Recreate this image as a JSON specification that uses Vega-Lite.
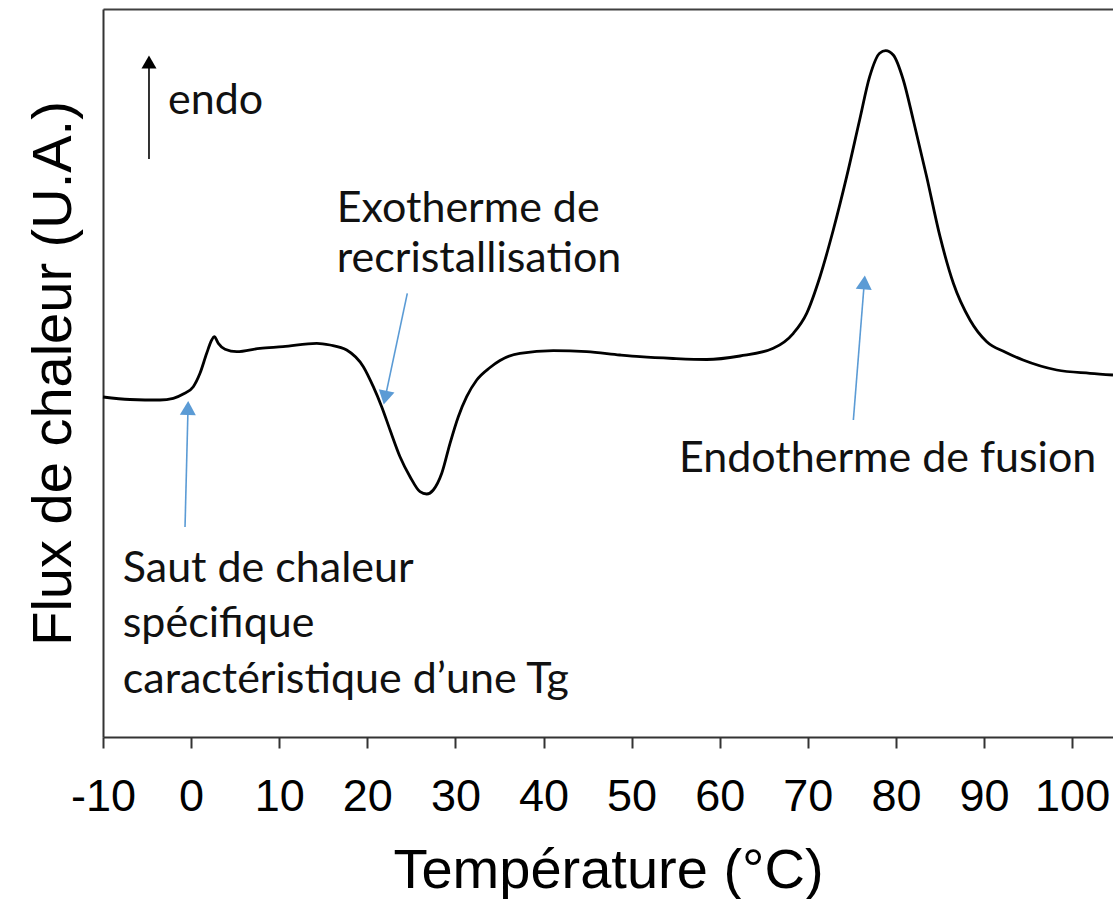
{
  "$schema": "https://vega.github.io/schema/vega-lite/v6.json",
  "width": 1010,
  "height": 728,
  "autosize": {"type": "none"},
  "padding": {"left": 103, "top": 9, "right": 0, "bottom": 162},
  "background": "white",
  "config": {"view": {"stroke": null}},
  "datasets": {
    "curve": [
      {"T": -10.0, "flux": 34.0}, {"T": -6.94, "flux": 33.75}, {"T": -3.53, "flux": 33.7}, {"T": -2.02, "flux": 33.87},
      {"T": -0.89, "flux": 34.3}, {"T": 0.25, "flux": 35.03}, {"T": 1.01, "flux": 36.37}, {"T": 1.77, "flux": 38.37},
      {"T": 2.34, "flux": 39.7}, {"T": 2.63, "flux": 40.03}, {"T": 3.09, "flux": 39.37}, {"T": 3.85, "flux": 38.77},
      {"T": 5.18, "flux": 38.53}, {"T": 7.82, "flux": 38.87}, {"T": 10.43, "flux": 39.03}, {"T": 14.26, "flux": 39.37},
      {"T": 15.77, "flux": 39.2}, {"T": 17.66, "flux": 38.7}, {"T": 19.55, "flux": 37.03}, {"T": 20.68, "flux": 35.03},
      {"T": 21.63, "flux": 33.03}, {"T": 22.58, "flux": 30.7}, {"T": 23.71, "flux": 28.03}, {"T": 24.85, "flux": 26.03},
      {"T": 25.98, "flux": 24.53}, {"T": 26.74, "flux": 24.3}, {"T": 27.49, "flux": 24.7}, {"T": 28.45, "flux": 26.37},
      {"T": 29.39, "flux": 29.37}, {"T": 30.33, "flux": 32.03}, {"T": 31.28, "flux": 34.03}, {"T": 32.42, "flux": 35.7},
      {"T": 33.93, "flux": 36.95}, {"T": 35.06, "flux": 37.65}, {"T": 37.33, "flux": 38.37}, {"T": 41.11, "flux": 38.63},
      {"T": 44.9, "flux": 38.53}, {"T": 48.68, "flux": 38.2}, {"T": 50.95, "flux": 38.03}, {"T": 54.7, "flux": 37.85},
      {"T": 58.52, "flux": 37.75}, {"T": 62.3, "flux": 38.1}, {"T": 66.08, "flux": 38.87}, {"T": 68.36, "flux": 40.37},
      {"T": 69.87, "flux": 42.37}, {"T": 71.38, "flux": 46.03}, {"T": 72.89, "flux": 50.7}, {"T": 74.41, "flux": 56.03},
      {"T": 75.88, "flux": 61.7}, {"T": 77.02, "flux": 66.03}, {"T": 78.15, "flux": 68.37}, {"T": 78.84, "flux": 68.63},
      {"T": 79.7, "flux": 68.2}, {"T": 80.84, "flux": 65.7}, {"T": 81.97, "flux": 61.7}, {"T": 83.49, "flux": 56.03},
      {"T": 85.01, "flux": 50.03}, {"T": 86.52, "flux": 45.37}, {"T": 88.41, "flux": 41.7}, {"T": 90.31, "flux": 39.53},
      {"T": 92.38, "flux": 38.5}, {"T": 94.43, "flux": 37.7}, {"T": 98.25, "flux": 36.7}, {"T": 102.03, "flux": 36.37},
      {"T": 104.64, "flux": 36.2}
    ],
    "arrows": [
      {"name": "endo", "kind": "endo", "T": -4.78, "flux": 57.8, "T2": -4.78, "flux2": 67.5},
      {"name": "tg", "kind": "note", "T": -0.69, "flux": 21.0, "T2": -0.35, "flux2": 32.9},
      {"name": "exo", "kind": "note", "T": 24.54, "flux": 44.37, "T2": 22.03, "flux2": 33.93},
      {"name": "fus", "kind": "note", "T": 75.17, "flux": 31.7, "T2": 76.41, "flux2": 45.45}
    ],
    "labels": [
      {"label": "endo", "T": -2.62, "flux": 62.3},
      {"label": "Exotherme de", "T": 16.53, "flux": 51.53},
      {"label": "recristallisation", "T": 16.53, "flux": 46.53},
      {"label": "Endotherme de fusion", "T": 55.38, "flux": 26.5},
      {"label": "Saut de chaleur", "T": -7.76, "flux": 15.53},
      {"label": "spécifique", "T": -7.76, "flux": 10.03},
      {"label": "caractéristique d’une Tg", "T": -7.76, "flux": 4.37}
    ]
  },
  "resolve": {"axis": {"x": "independent", "y": "independent"}},
  "layer": [
    {
      "data": {"name": "curve"},
      "mark": {"type": "line", "color": "#000000", "strokeWidth": 2.8, "interpolate": "monotone"},
      "encoding": {
        "x": {
          "field": "T", "type": "quantitative",
          "scale": {"domain": [-10, 104.64], "nice": false, "zero": false},
          "axis": {
            "orient": "bottom", "title": "Température (°C)", "values": [-10, 0, 10, 20, 30, 40, 50, 60, 70, 80, 90, 100],
            "labelExpr": "datum.value < 0 ? '-' + abs(datum.value) : '' + datum.value",
            "grid": false, "domainColor": "#333333", "domainWidth": 2, "tickColor": "#333333", "tickWidth": 2, "tickSize": 11,
            "labelFont": "Liberation Sans", "labelFontSize": 45, "labelColor": "#000000", "labelPadding": 26,
            "labelFlush": false, "labelOverlap": false, "labelBound": false,
            "titleFont": "Liberation Sans", "titleFontSize": 56, "titleFontWeight": "normal", "titleColor": "#000000", "titlePadding": 24
          }
        },
        "y": {
          "field": "flux", "type": "quantitative",
          "scale": {"domain": [0, 72.8], "nice": false, "zero": false},
          "axis": {
            "orient": "left", "title": "Flux de chaleur (U.A.)", "grid": false, "labels": false, "ticks": false,
            "domainColor": "#333333", "domainWidth": 2,
            "titleFont": "Liberation Sans", "titleFontSize": 56, "titleFontWeight": "normal", "titleColor": "#000000", "titlePadding": 21
          }
        }
      }
    },
    {
      "data": {"name": "arrows"},
      "mark": {"type": "rule", "strokeWidth": 1.6},
      "encoding": {
        "x": {"field": "T", "type": "quantitative", "axis": {"orient": "top", "title": null, "labels": false, "ticks": false, "grid": false, "domainColor": "#404040", "domainWidth": 2.2}},
        "y": {"field": "flux", "type": "quantitative", "axis": null},
        "x2": {"field": "T2"},
        "y2": {"field": "flux2"},
        "color": {"field": "kind", "type": "nominal", "scale": {"domain": ["endo", "note"], "range": ["#000000", "#5B9BD5"]}, "legend": null}
      }
    },
    {
      "data": {"name": "arrows"},
      "transform": [{"filter": "datum.name === 'endo'"}],
      "mark": {"type": "point", "shape": "triangle-up", "filled": true, "size": 225, "color": "#000000", "opacity": 1, "strokeWidth": 0},
      "encoding": {
        "x": {"field": "T2", "type": "quantitative", "axis": null},
        "y": {"field": "flux2", "type": "quantitative", "axis": null}
      }
    },
    {
      "data": {"name": "arrows"},
      "transform": [{"filter": "datum.name === 'tg'"}],
      "mark": {"type": "point", "shape": "triangle-up", "filled": true, "size": 256, "angle": 1.5, "color": "#5B9BD5", "opacity": 1, "strokeWidth": 0},
      "encoding": {
        "x": {"field": "T2", "type": "quantitative", "axis": null},
        "y": {"field": "flux2", "type": "quantitative", "axis": null}
      }
    },
    {
      "data": {"name": "arrows"},
      "transform": [{"filter": "datum.name === 'exo'"}],
      "mark": {"type": "point", "shape": "triangle-up", "filled": true, "size": 256, "angle": 192, "color": "#5B9BD5", "opacity": 1, "strokeWidth": 0},
      "encoding": {
        "x": {"field": "T2", "type": "quantitative", "axis": null},
        "y": {"field": "flux2", "type": "quantitative", "axis": null}
      }
    },
    {
      "data": {"name": "arrows"},
      "transform": [{"filter": "datum.name === 'fus'"}],
      "mark": {"type": "point", "shape": "triangle-up", "filled": true, "size": 256, "angle": 4.5, "color": "#5B9BD5", "opacity": 1, "strokeWidth": 0},
      "encoding": {
        "x": {"field": "T2", "type": "quantitative", "axis": null},
        "y": {"field": "flux2", "type": "quantitative", "axis": null}
      }
    },
    {
      "data": {"name": "labels"},
      "mark": {"type": "text", "align": "left", "baseline": "alphabetic", "font": "Lato", "fontSize": 43, "color": "#111111"},
      "encoding": {
        "x": {"field": "T", "type": "quantitative", "axis": null},
        "y": {"field": "flux", "type": "quantitative", "axis": null},
        "text": {"field": "label", "type": "nominal"}
      }
    }
  ]
}
